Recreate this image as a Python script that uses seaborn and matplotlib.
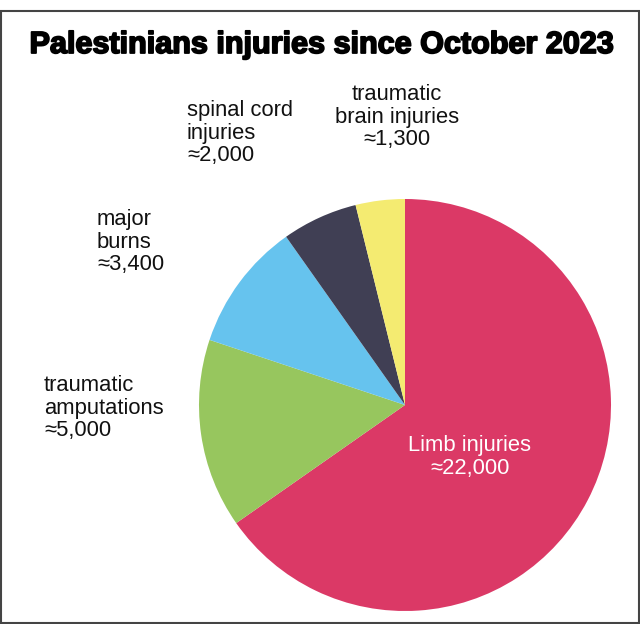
import matplotlib
matplotlib.use("Agg")
import matplotlib.pyplot as plt
import matplotlib.patheffects as pe
import seaborn as sns
from matplotlib.patches import Rectangle

# Data
categories = ["Limb injuries", "traumatic\namputations", "major\nburns",
              "spinal cord\ninjuries", "traumatic\nbrain injuries"]
values = [22000, 5000, 3400, 2000, 1300]
value_labels = ["≈22,000", "≈5,000", "≈3,400", "≈2,000", "≈1,300"]
colors = ["#DB3966", "#97C65E", "#66C3EE", "#403F54", "#F4EB71"]
title = "Palestinians injuries since October 2023"

sns.set_theme(style="white")
plt.rcParams["font.family"] = ["Liberation Sans", "DejaVu Sans"]

W, H = 640, 624
fig = plt.figure(figsize=(W / 100, H / 100), dpi=100)
ax = fig.add_axes([0, 0, 1, 1])

pal = sns.color_palette(colors)
cx, cy, r = 405, 405, 206
ax.pie(values, colors=pal, startangle=90, counterclock=False,
       radius=r, center=(cx, H - cy), frame=True,
       wedgeprops=dict(linewidth=0))
ax.set_xlim(0, W)
ax.set_ylim(0, H)
ax.set_aspect("equal")
ax.axis("off")

# frame
fig.patches.append(Rectangle((0.75 / W, 1.5 / H), (W - 2) / W, (H - 12) / H,
                             transform=fig.transFigure, fill=False,
                             edgecolor="#444444", linewidth=1.5))

fs = 15.8
ls = 1.1
label_pos = [
    (470, 435, "center", "white"),
    (44, 375, "left", "#111111"),
    (97, 209, "left", "#111111"),
    (187, 100, "left", "#111111"),
    (397, 84, "center", "#111111"),
]
for cat, vl, (x, y, ha, c) in zip(categories, value_labels, label_pos):
    ax.text(x, H - y, cat + "\n" + vl, ha=ha, va="top", fontsize=fs,
            color=c, linespacing=ls,
            multialignment="center" if ha == "center" else "left")

fig.text(321 / W, 1 - 45 / H, title, ha="center", va="center",
         fontsize=22, fontweight="bold", family=["Liberation Sans", "DejaVu Sans"],
         color="black",
         path_effects=[pe.Stroke(linewidth=1.3, foreground="black"), pe.Normal()])

fig.savefig("out.png", dpi=100, facecolor="white")
